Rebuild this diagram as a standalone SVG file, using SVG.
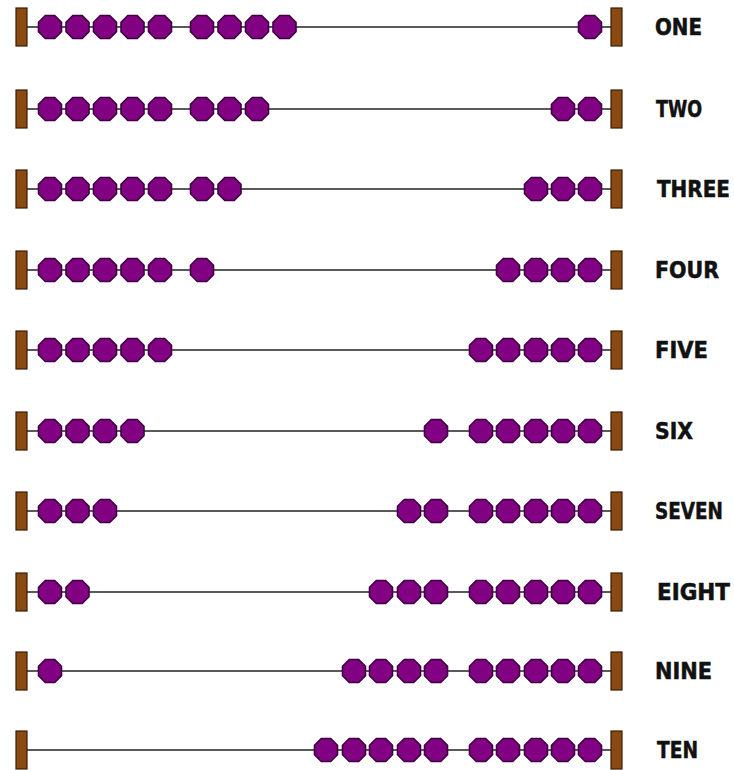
<svg xmlns="http://www.w3.org/2000/svg" xmlns:xlink="http://www.w3.org/1999/xlink" width="734" height="770" viewBox="0 0 734 770">
<style>
.wire{stroke:#222;stroke-width:1.6;fill:none}
.bar{fill:#8a4a12;stroke:#3a1e05;stroke-width:1.2}
.bead{fill:#820082;stroke:#3e0040;stroke-width:1.6}
.lbl{font-family:"DejaVu Sans Condensed","DejaVu Sans","Liberation Sans",sans-serif;font-weight:bold;font-size:23px;fill:#111;stroke:#111;stroke-width:0.5}
</style>
<defs>
<polygon id="b" class="bead" points="-4.7,-11.5 4.7,-11.5 11.5,-4.7 11.5,4.7 4.7,11.5 -4.7,11.5 -11.5,4.7 -11.5,-4.7"/>
</defs>
<rect width="734" height="770" fill="#fff"/>
<g id="connectors">
<line class="wire" x1="27" y1="27" x2="611" y2="27"/>
<line class="wire" x1="27" y1="109" x2="611" y2="109"/>
<line class="wire" x1="27" y1="189" x2="611" y2="189"/>
<line class="wire" x1="27" y1="270" x2="611" y2="270"/>
<line class="wire" x1="27" y1="350" x2="611" y2="350"/>
<line class="wire" x1="27" y1="431" x2="611" y2="431"/>
<line class="wire" x1="27" y1="511" x2="611" y2="511"/>
<line class="wire" x1="27" y1="592" x2="611" y2="592"/>
<line class="wire" x1="27" y1="671" x2="611" y2="671"/>
<line class="wire" x1="27" y1="750" x2="611" y2="750"/>
</g>
<g id="row1">
<rect class="bar" x="16" y="8" width="11" height="38"/><rect class="bar" x="611" y="8" width="11" height="38"/>
<use href="#b" x="50" y="27"/><use href="#b" x="77.5" y="27"/><use href="#b" x="105" y="27"/><use href="#b" x="132.5" y="27"/><use href="#b" x="160" y="27"/><use href="#b" x="202" y="27"/><use href="#b" x="229.5" y="27"/><use href="#b" x="257" y="27"/><use href="#b" x="284.5" y="27"/>
<use href="#b" x="590" y="27"/>
<text class="lbl" x="655" y="35" textLength="47" lengthAdjust="spacingAndGlyphs">ONE</text>
</g>
<g id="row2">
<rect class="bar" x="16" y="90" width="11" height="38"/><rect class="bar" x="611" y="90" width="11" height="38"/>
<use href="#b" x="50" y="109"/><use href="#b" x="77.5" y="109"/><use href="#b" x="105" y="109"/><use href="#b" x="132.5" y="109"/><use href="#b" x="160" y="109"/><use href="#b" x="202" y="109"/><use href="#b" x="229.5" y="109"/><use href="#b" x="257" y="109"/>
<use href="#b" x="590" y="109"/><use href="#b" x="563" y="109"/>
<text class="lbl" x="656" y="117" textLength="46" lengthAdjust="spacingAndGlyphs">TWO</text>
</g>
<g id="row3">
<rect class="bar" x="16" y="170" width="11" height="38"/><rect class="bar" x="611" y="170" width="11" height="38"/>
<use href="#b" x="50" y="189"/><use href="#b" x="77.5" y="189"/><use href="#b" x="105" y="189"/><use href="#b" x="132.5" y="189"/><use href="#b" x="160" y="189"/><use href="#b" x="202" y="189"/><use href="#b" x="229.5" y="189"/>
<use href="#b" x="590" y="189"/><use href="#b" x="563" y="189"/><use href="#b" x="536" y="189"/>
<text class="lbl" x="657" y="197" textLength="73" lengthAdjust="spacingAndGlyphs">THREE</text>
</g>
<g id="row4">
<rect class="bar" x="16" y="251" width="11" height="38"/><rect class="bar" x="611" y="251" width="11" height="38"/>
<use href="#b" x="50" y="270"/><use href="#b" x="77.5" y="270"/><use href="#b" x="105" y="270"/><use href="#b" x="132.5" y="270"/><use href="#b" x="160" y="270"/><use href="#b" x="202" y="270"/>
<use href="#b" x="590" y="270"/><use href="#b" x="563" y="270"/><use href="#b" x="536" y="270"/><use href="#b" x="508" y="270"/>
<text class="lbl" x="655" y="278" textLength="64" lengthAdjust="spacingAndGlyphs">FOUR</text>
</g>
<g id="row5">
<rect class="bar" x="16" y="331" width="11" height="38"/><rect class="bar" x="611" y="331" width="11" height="38"/>
<use href="#b" x="50" y="350"/><use href="#b" x="77.5" y="350"/><use href="#b" x="105" y="350"/><use href="#b" x="132.5" y="350"/><use href="#b" x="160" y="350"/>
<use href="#b" x="590" y="350"/><use href="#b" x="563" y="350"/><use href="#b" x="536" y="350"/><use href="#b" x="508" y="350"/><use href="#b" x="481" y="350"/>
<text class="lbl" x="655" y="358" textLength="53" lengthAdjust="spacingAndGlyphs">FIVE</text>
</g>
<g id="row6">
<rect class="bar" x="16" y="412" width="11" height="38"/><rect class="bar" x="611" y="412" width="11" height="38"/>
<use href="#b" x="50" y="431"/><use href="#b" x="77.5" y="431"/><use href="#b" x="105" y="431"/><use href="#b" x="132.5" y="431"/>
<use href="#b" x="590" y="431"/><use href="#b" x="563" y="431"/><use href="#b" x="536" y="431"/><use href="#b" x="508" y="431"/><use href="#b" x="481" y="431"/><use href="#b" x="436" y="431"/>
<text class="lbl" x="655" y="439" textLength="38" lengthAdjust="spacingAndGlyphs">SIX</text>
</g>
<g id="row7">
<rect class="bar" x="16" y="492" width="11" height="38"/><rect class="bar" x="611" y="492" width="11" height="38"/>
<use href="#b" x="50" y="511"/><use href="#b" x="77.5" y="511"/><use href="#b" x="105" y="511"/>
<use href="#b" x="590" y="511"/><use href="#b" x="563" y="511"/><use href="#b" x="536" y="511"/><use href="#b" x="508" y="511"/><use href="#b" x="481" y="511"/><use href="#b" x="436" y="511"/><use href="#b" x="409" y="511"/>
<text class="lbl" x="655" y="519" textLength="68" lengthAdjust="spacingAndGlyphs">SEVEN</text>
</g>
<g id="row8">
<rect class="bar" x="16" y="573" width="11" height="38"/><rect class="bar" x="611" y="573" width="11" height="38"/>
<use href="#b" x="50" y="592"/><use href="#b" x="77.5" y="592"/>
<use href="#b" x="590" y="592"/><use href="#b" x="563" y="592"/><use href="#b" x="536" y="592"/><use href="#b" x="508" y="592"/><use href="#b" x="481" y="592"/><use href="#b" x="436" y="592"/><use href="#b" x="409" y="592"/><use href="#b" x="381" y="592"/>
<text class="lbl" x="657" y="600" textLength="73" lengthAdjust="spacingAndGlyphs">EIGHT</text>
</g>
<g id="row9">
<rect class="bar" x="16" y="652" width="11" height="38"/><rect class="bar" x="611" y="652" width="11" height="38"/>
<use href="#b" x="50" y="671"/>
<use href="#b" x="590" y="671"/><use href="#b" x="563" y="671"/><use href="#b" x="536" y="671"/><use href="#b" x="508" y="671"/><use href="#b" x="481" y="671"/><use href="#b" x="436" y="671"/><use href="#b" x="409" y="671"/><use href="#b" x="381" y="671"/><use href="#b" x="354" y="671"/>
<text class="lbl" x="655" y="679" textLength="57" lengthAdjust="spacingAndGlyphs">NINE</text>
</g>
<g id="row10">
<rect class="bar" x="16" y="731" width="11" height="38"/><rect class="bar" x="611" y="731" width="11" height="38"/>
<use href="#b" x="590" y="750"/><use href="#b" x="563" y="750"/><use href="#b" x="536" y="750"/><use href="#b" x="508" y="750"/><use href="#b" x="481" y="750"/><use href="#b" x="436" y="750"/><use href="#b" x="409" y="750"/><use href="#b" x="381" y="750"/><use href="#b" x="354" y="750"/><use href="#b" x="326" y="750"/>
<text class="lbl" x="657" y="758" textLength="41" lengthAdjust="spacingAndGlyphs">TEN</text>
</g>
</svg>
